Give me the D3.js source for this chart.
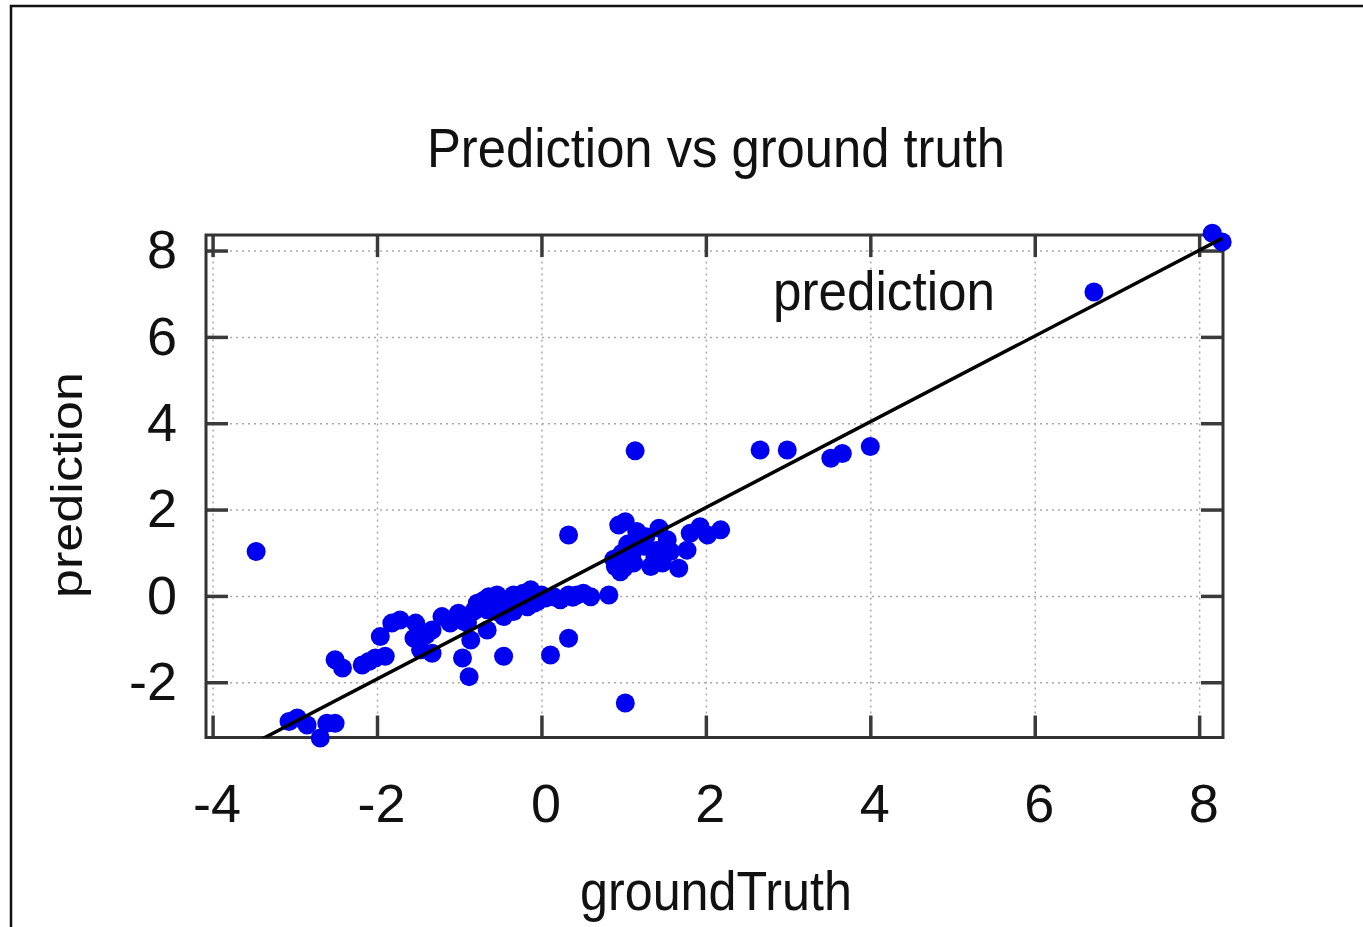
<!DOCTYPE html>
<html>
<head>
<meta charset="utf-8">
<script src="https://cdn.jsdelivr.net/npm/d3@7"></script>
<style>
  body { margin: 0; background: #fff; }
  text { font-family: "Liberation Sans", Arial, sans-serif; fill: #111; }
</style>
</head>
<body>
<div id="chart"></div>
<script>
// data
var groundTruth = [-3.47, -3.07, -2.97, -2.85, -2.69, -2.61, -2.51, -2.51, -2.42, -2.18, -2.10, -2.02, -1.90,
  -1.96, -1.82, -1.72, -1.53, -1.55, -1.47, -1.33, -1.33, -1.21, -1.11, -1.01, -0.90, -0.86,
  -0.78, -0.66, -0.96, -0.88, -0.46, -0.72, -0.64, -0.54, -0.46, -0.42, -0.34, -0.22, -0.13, -0.05,
  0.05, 0.15, 0.23, 0.33, 0.43, 0.51, 0.60, 0.82, -0.66, -0.50, -0.34, -0.17, -0.26, -0.09, 0.03,
  -0.82, -0.58, -0.30, 0.00, -0.95, -1.40, 0.38, -0.70,
  0.33, 0.33, 0.11, 1.02,
  0.94, 1.02, 1.16, 1.27, 1.43, 1.53, 1.57, 0.98, 0.90, 1.00, 1.12, 1.33, 1.47, 1.67, 1.77, 1.81,
  1.93, 2.02, 2.18, 0.96, 1.14, 1.05, 1.40, 0.88, 1.25, 1.10, 1.38,
  2.66, 2.99, 3.52, 3.66, 4.00, 6.72, 8.16, 8.28];
var prediction = [1.03, -2.91, -2.83, -2.99, -3.29, -2.95, -2.95, -1.48, -1.67, -1.60, -1.52, -1.44, -1.40,
  -0.94, -0.63, -0.56, -0.63, -0.98, -1.25, -1.33, -0.79, -0.48, -0.63, -0.40, -0.63, -1.02,
  -0.17, -0.79, -1.44, -1.87, -1.40, -0.25, -0.02, 0.02, -0.48, -0.09, 0.02, 0.06, 0.14, -0.13,
  -0.05, -0.02, -0.09, 0.02, 0.02, 0.06, -0.02, 0.02, -0.32, -0.40, -0.36, -0.25, -0.17, -0.17, -0.02,
  -0.35, -0.22, -0.08, 0.02, -0.58, -0.90, -0.03, -0.10,
  1.41, -0.98, -1.37, -2.48,
  1.64, 1.72, 1.49, 1.37, 1.57, 1.30, 1.03, 0.99, 0.68, 0.64, 0.76, 0.68, 0.76, 0.64, 1.06, 1.45,
  1.60, 1.41, 1.53, 0.56, 3.36, 1.20, 1.05, 0.85, 1.15, 0.95, 0.90,
  3.38, 3.38, 3.19, 3.30, 3.46, 7.04, 8.40, 8.20];
var fitIntercept = 0.06;
var fitSlope = 0.993;
var xTicks = [-4, -2, 0, 2, 4, 6, 8];
var yTicks = [-2, 0, 2, 4, 6, 8];

var svgWidth = 1363;
var svgHeight = 927;
var plot = { left: 206, right: 1223, top: 235, bottom: 737.5 };

var svg = d3.select("#chart").append("svg")
  .attr("width", svgWidth)
  .attr("height", svgHeight);

// outer border (left + top visible)
svg.append("path")
  .attr("d", `M11,${svgHeight} L11,6 L${svgWidth},6`)
  .attr("fill", "none")
  .attr("stroke", "#111")
  .attr("stroke-width", 2.5);

var x = d3.scaleLinear().domain([-4.08, 8.29]).range([plot.left, plot.right]);
var y = d3.scaleLinear().domain([-3.28, 8.36]).range([plot.bottom, plot.top]);
var pw = plot.right - plot.left;
var ph = plot.bottom - plot.top;

// dotted grid
svg.append("g")
  .attr("transform", `translate(0, ${plot.bottom})`)
  .call(d3.axisBottom(x).tickValues(xTicks).tickSize(-ph).tickFormat(""))
  .call(g => g.select(".domain").remove())
  .call(g => g.selectAll("line").attr("stroke", "#aaa").attr("stroke-width", 1.5).attr("stroke-dasharray", "2,4"));
svg.append("g")
  .attr("transform", `translate(${plot.left}, 0)`)
  .call(d3.axisLeft(y).tickValues(yTicks).tickSize(-pw).tickFormat(""))
  .call(g => g.select(".domain").remove())
  .call(g => g.selectAll("line").attr("stroke", "#aaa").attr("stroke-width", 1.5).attr("stroke-dasharray", "2,4"));

// axes with inward ticks, mirrored on top and right
function styleAxis(g) {
  g.select(".domain").remove();
  g.selectAll("line").attr("stroke", "#3a3a3a").attr("stroke-width", 3.5);
  g.selectAll("text").style("font-size", "54px").attr("fill", "#111");
}
var plainNum = d => String(d);
svg.append("g")
  .attr("transform", `translate(0, ${plot.bottom})`)
  .call(d3.axisBottom(x).tickValues(xTicks).tickSize(-22).tickPadding(46).tickFormat(plainNum))
  .call(styleAxis)
  .call(g => g.selectAll("text").attr("dx", 4));
svg.append("g")
  .attr("transform", `translate(0, ${plot.top})`)
  .call(d3.axisTop(x).tickValues(xTicks).tickSize(-22).tickFormat(""))
  .call(styleAxis);
svg.append("g")
  .attr("transform", `translate(${plot.left}, 0)`)
  .call(d3.axisLeft(y).tickValues(yTicks).tickSize(-22).tickPadding(29).tickFormat(plainNum))
  .call(styleAxis);
svg.append("g")
  .attr("transform", `translate(${plot.right}, 0)`)
  .call(d3.axisRight(y).tickValues(yTicks).tickSize(-22).tickFormat(""))
  .call(styleAxis);

// frame
svg.append("rect")
  .attr("x", plot.left).attr("y", plot.top)
  .attr("width", pw).attr("height", ph)
  .attr("fill", "none")
  .attr("stroke", "#333")
  .attr("stroke-width", 3);

// points
svg.append("g").selectAll("circle")
  .data(groundTruth.map((d, i) => [d, prediction[i]]))
  .enter()
  .append("circle")
  .attr("cx", d => x(d[0]))
  .attr("cy", d => y(d[1]))
  .attr("r", 9.5)
  .attr("fill", "#0000f0");

// fitted line, clipped to the plot
svg.append("clipPath").attr("id", "clip")
  .append("rect")
  .attr("x", plot.left).attr("y", plot.top)
  .attr("width", pw).attr("height", ph);
var ext = d3.extent(groundTruth);
svg.append("line")
  .attr("clip-path", "url(#clip)")
  .attr("x1", x(ext[0])).attr("y1", y(fitIntercept + fitSlope * ext[0]))
  .attr("x2", x(ext[1])).attr("y2", y(fitIntercept + fitSlope * ext[1]))
  .attr("stroke", "#000")
  .attr("stroke-width", 3.5);

// texts
svg.append("text")
  .attr("x", 716).attr("y", 167)
  .attr("text-anchor", "middle")
  .attr("textLength", 578).attr("lengthAdjust", "spacingAndGlyphs")
  .style("font-size", "56px")
  .text("Prediction vs ground truth");

svg.append("text")
  .attr("x", 884).attr("y", 310)
  .attr("text-anchor", "middle")
  .attr("textLength", 222).attr("lengthAdjust", "spacingAndGlyphs")
  .style("font-size", "55px")
  .text("prediction");

svg.append("text")
  .attr("x", 716).attr("y", 910)
  .attr("text-anchor", "middle")
  .attr("textLength", 272).attr("lengthAdjust", "spacingAndGlyphs")
  .style("font-size", "55px")
  .text("groundTruth");

svg.append("text")
  .attr("transform", "translate(82, 485) rotate(-90)")
  .attr("text-anchor", "middle")
  .attr("textLength", 226).attr("lengthAdjust", "spacingAndGlyphs")
  .style("font-size", "45px")
  .text("prediction");
</script>
</body>
</html>
